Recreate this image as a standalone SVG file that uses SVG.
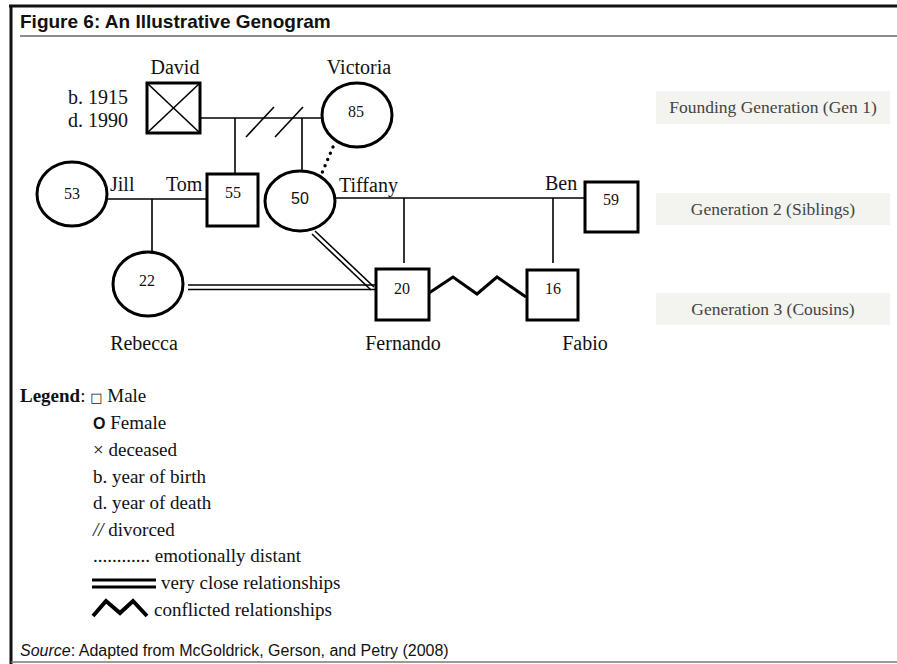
<svg xmlns="http://www.w3.org/2000/svg" width="897" height="664" viewBox="0 0 897 664">
<style>
.sym{fill:#fff;stroke:#000;stroke-width:3}
.ln{stroke:#000;stroke-width:1.6;fill:none}
.t{font-family:"Liberation Serif","Times New Roman",serif;font-size:20px;fill:#111}
.n{font-family:"Liberation Serif","Times New Roman",serif;font-size:16px;fill:#111;text-anchor:middle}
.lg{font-family:"Liberation Serif","Times New Roman",serif;font-size:19px;fill:#111}
.gb{fill:#f3f3f0}
.gt{font-family:"Liberation Serif","Times New Roman",serif;font-size:17.5px;fill:#444;text-anchor:middle}
</style>
<rect width="897" height="664" fill="#fff"/>
<!-- frame -->
<line x1="9" y1="6" x2="897" y2="6" stroke="#111" stroke-width="3"/>
<line x1="11" y1="5" x2="11" y2="664" stroke="#111" stroke-width="3"/>
<line x1="20" y1="36" x2="897" y2="36" stroke="#666" stroke-width="1.5"/>
<line x1="11" y1="662" x2="897" y2="662" stroke="#777" stroke-width="1.5"/>
<text x="20" y="28" font-family="Liberation Sans,Arial,sans-serif" font-size="19" font-weight="bold" fill="#111">Figure 6: An Illustrative Genogram</text>

<!-- connectors -->
<g id="connectors">
<polyline class="ln" points="200,118 323,118"/>
<line class="ln" x1="235" y1="118" x2="235" y2="173"/>
<line class="ln" x1="302" y1="118" x2="302" y2="171"/>
<line class="ln" x1="246" y1="137" x2="274" y2="107"/>
<line class="ln" x1="275" y1="137" x2="303" y2="107"/>
<line x1="333" y1="147" x2="322" y2="173" stroke="#000" stroke-width="3.4" stroke-linecap="round" stroke-dasharray="0 6.8"/>
<line class="ln" x1="107" y1="199" x2="207" y2="199"/>
<line class="ln" x1="152" y1="199" x2="152" y2="252"/>
<line class="ln" x1="335" y1="198" x2="584" y2="198"/>
<line class="ln" x1="404" y1="198" x2="404" y2="263"/>
<line class="ln" x1="553" y1="198" x2="553" y2="263"/>
<line class="ln" x1="188" y1="285" x2="375" y2="285" stroke-width="1.4"/>
<line class="ln" x1="188" y1="289.5" x2="375" y2="289.5" stroke-width="1.4"/>
<line class="ln" x1="315" y1="231" x2="374" y2="287" stroke-width="1.4"/>
<line class="ln" x1="312" y1="234" x2="371" y2="290" stroke-width="1.4"/>
<polyline points="429,293 453,277 477,294 497,277 526,297" fill="none" stroke="#000" stroke-width="3" stroke-linejoin="miter"/>
</g>

<!-- nodes -->
<g id="david">
<rect class="sym" x="147" y="83" width="53" height="50"/>
<line class="ln" x1="147" y1="83" x2="200" y2="133"/>
<line class="ln" x1="200" y1="83" x2="147" y2="133"/>
<text class="t" x="175" y="74" text-anchor="middle">David</text>
<text class="t" x="128" y="104" text-anchor="end">b. 1915</text>
<text class="t" x="128" y="127" text-anchor="end">d. 1990</text>
</g>
<g id="victoria">
<ellipse class="sym" cx="357" cy="115" rx="35" ry="32"/>
<text class="n" x="356" y="117">85</text>
<text class="t" x="359" y="74" text-anchor="middle">Victoria</text>
</g>
<g id="jill">
<ellipse class="sym" cx="72" cy="194" rx="35" ry="32"/>
<text class="n" x="72" y="199">53</text>
<text class="t" x="110" y="191">Jill</text>
</g>
<g id="tom">
<rect class="sym" x="207" y="174" width="51" height="52"/>
<text class="n" x="233" y="198">55</text>
<text class="t" x="166" y="191">Tom</text>
</g>
<g id="tiffany">
<ellipse class="sym" cx="300" cy="201" rx="35" ry="30"/>
<text x="300" y="204" font-family="Liberation Sans,Arial,sans-serif" font-size="16" text-anchor="middle" fill="#111">50</text>
<text class="t" x="339" y="192">Tiffany</text>
</g>
<g id="ben">
<rect class="sym" x="585" y="182" width="53" height="50"/>
<text class="n" x="611" y="205">59</text>
<text class="t" x="545" y="190">Ben</text>
</g>
<g id="rebecca">
<ellipse class="sym" cx="148" cy="284" rx="35" ry="32"/>
<text class="n" x="147" y="286">22</text>
<text class="t" x="144" y="350" text-anchor="middle">Rebecca</text>
</g>
<g id="fernando">
<rect class="sym" x="376" y="269" width="53" height="51"/>
<text class="n" x="402" y="294">20</text>
<text class="t" x="403" y="350" text-anchor="middle">Fernando</text>
</g>
<g id="fabio">
<rect class="sym" x="527" y="270" width="51" height="50"/>
<text class="n" x="553" y="294">16</text>
<text class="t" x="585" y="350" text-anchor="middle">Fabio</text>
</g>

<!-- generation labels -->
<g id="gen1">
<rect class="gb" x="656" y="91" width="234" height="33"/>
<text class="gt" x="773" y="113">Founding Generation (Gen 1)</text>
</g>
<g id="gen2">
<rect class="gb" x="656" y="193" width="234" height="32"/>
<text class="gt" x="773" y="215">Generation 2 (Siblings)</text>
</g>
<g id="gen3">
<rect class="gb" x="656" y="293" width="234" height="32"/>
<text class="gt" x="773" y="315">Generation 3 (Cousins)</text>
</g>

<!-- legend -->
<g id="legend">
<text class="lg" x="20" y="402"><tspan font-weight="bold">Legend</tspan>: <tspan font-family="DejaVu Sans,sans-serif" font-size="13">□</tspan> Male</text>
<text class="lg" x="93" y="429"><tspan font-family="Liberation Sans,Arial,sans-serif" font-weight="bold" font-size="16">O</tspan> Female</text>
<text class="lg" x="93" y="456">× deceased</text>
<text class="lg" x="93" y="483">b. year of birth</text>
<text class="lg" x="93" y="509">d. year of death</text>
<text class="lg" x="93" y="536"><tspan font-style="italic">//</tspan> divorced</text>
<text class="lg" x="93" y="562">............ emotionally distant</text>
<line x1="92" y1="580" x2="156" y2="580" stroke="#000" stroke-width="3"/>
<line x1="92" y1="587" x2="156" y2="587" stroke="#000" stroke-width="3"/>
<text class="lg" x="161" y="589">very close relationships</text>
<polyline points="93,616 106,601 120,613 133,601 147,616" fill="none" stroke="#000" stroke-width="4"/>
<text class="lg" x="154" y="616">conflicted relationships</text>
</g>
<text x="20" y="656" font-family="Liberation Sans,Arial,sans-serif" font-size="16" fill="#111"><tspan font-style="italic">Source</tspan>: Adapted from McGoldrick, Gerson, and Petry (2008)</text>
</svg>
